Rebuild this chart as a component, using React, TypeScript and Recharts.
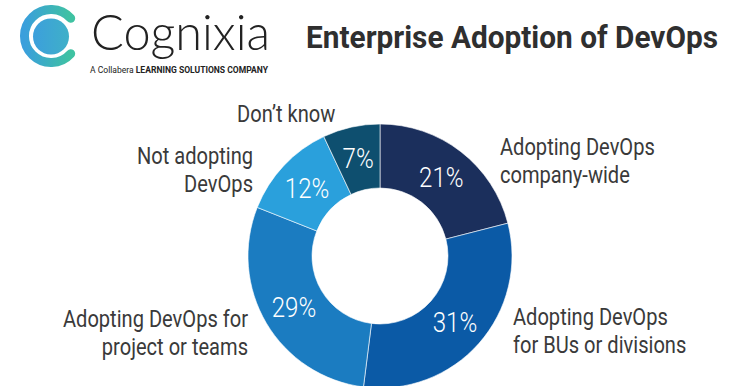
import React from 'react';
import { PieChart, Pie, Cell } from 'recharts';

const categories = [
  ['Adopting DevOps', 'company-wide'],
  ['Adopting DevOps', 'for BUs or divisions'],
  ['Adopting DevOps for', 'project or teams'],
  ['Not adopting', 'DevOps'],
  ["Don\u2019t know"],
];
const shares = [21, 31, 29, 12, 7];
const sliceColors = ['#1b2f5c', '#0b5aa6', '#1b7cc1', '#2aa0dc', '#0e4f6f'];

// where each outer label sits, relative to the pie centre
const labelPlacement = [
  { dx: 120, dy: -101, anchor: 'start' },
  { dx: 133, dy: 69, anchor: 'start' },
  { dx: -132, dy: 71, anchor: 'end' },
  { dx: -127, dy: -92, anchor: 'end' },
  { dx: -143, dy: -134, anchor: 'start' },
];

const data = categories.map((lines, i) => ({ name: lines.join(' '), lines, value: shares[i] }));

const FONT = 'Roboto, "Liberation Sans", sans-serif';
const RAD = Math.PI / 180;

// condensed-looking text: plain Roboto squeezed horizontally
const CondText = ({ x, y, children, anchor = 'start', squeeze = 0.84, ...rest }: any) => (
  <text
    transform={`translate(${x},${y}) scale(${squeeze},1)`}
    x={0}
    y={0}
    textAnchor={anchor}
    fontFamily={FONT}
    {...rest}
  >
    {children}
  </text>
);

const renderLabel = (props: any) => {
  const { cx, cy, midAngle, innerRadius, outerRadius, index, value } = props;
  const r = (innerRadius + outerRadius) / 2;
  const x = cx + r * Math.cos(-midAngle * RAD);
  const y = cy + r * Math.sin(-midAngle * RAD);
  const place = labelPlacement[index];
  const lines = categories[index];
  return (
    <g>
      <CondText x={x} y={y + 10} anchor="middle" fill="#ffffff" fontSize={28} fontWeight={300} squeeze={0.86}>
        {value}%
      </CondText>
      {lines.map((line, li) => (
        <CondText
          key={li}
          x={cx + place.dx}
          y={cy + place.dy + li * 28}
          anchor={place.anchor}
          fill="#3a3a3a"
          fontSize={24.5}
          fontWeight={400}
          squeeze={0.82}
        >
          {line}
        </CondText>
      ))}
    </g>
  );
};

const Header = () => (
  <svg width={749} height={90} style={{ position: 'absolute', left: 0, top: 0 }}>
    <defs>
      <linearGradient id="logoGrad" x1="0" y1="0" x2="1" y2="0">
        <stop offset="0%" stopColor="#3a9fdc" />
        <stop offset="100%" stopColor="#3fc2a2" />
      </linearGradient>
      <linearGradient id="dotGrad" x1="0" y1="0" x2="1" y2="0">
        <stop offset="0%" stopColor="#3c9fdc" />
        <stop offset="100%" stopColor="#3fb0c8" />
      </linearGradient>
    </defs>
    <path
      d="M 70.7 18.3 A 26.5 26.5 0 1 0 70.7 53.7"
      fill="none"
      stroke="url(#logoGrad)"
      strokeWidth={9}
      strokeLinecap="round"
    />
    <circle cx={51} cy={36.5} r={18} fill="url(#dotGrad)" />
    <text x={91} y={50} fontSize={50} fontWeight={300} fill="#222" fontFamily="Lato, 'Open Sans', sans-serif" textLength={179} lengthAdjust="spacingAndGlyphs">
      Cognixia
    </text>
    <text x={90} y={73} fontSize={8.5} fill="#222" fontFamily={FONT} textLength={178} lengthAdjust="spacingAndGlyphs">
      A Collabera <tspan fontWeight="bold">LEARNING SOLUTIONS COMPANY</tspan>
    </text>
    <text x={306} y={48} fontSize={32} fontWeight="bold" fill="#2f2f2f" fontFamily={FONT} textLength={412} lengthAdjust="spacingAndGlyphs">
      Enterprise Adoption of DevOps
    </text>
  </svg>
);

export default function App() {
  return (
    <div style={{ position: 'absolute', left: 0, top: 0, width: 749, height: 386, background: '#ffffff' }}>
      <Header />
      <PieChart width={749} height={386} style={{ position: 'absolute', left: 0, top: 0 }}>
        <Pie
          data={data}
          dataKey="value"
          nameKey="name"
          cx={375}
          cy={251}
          innerRadius={68}
          outerRadius={132}
          startAngle={90}
          endAngle={-270}
          stroke="#ffffff"
          strokeWidth={0.6}
          label={renderLabel}
          labelLine={false}
          isAnimationActive={false}
        >
          {data.map((d, i) => (
            <Cell key={d.name} fill={sliceColors[i]} />
          ))}
        </Pie>
      </PieChart>
    </div>
  );
}
